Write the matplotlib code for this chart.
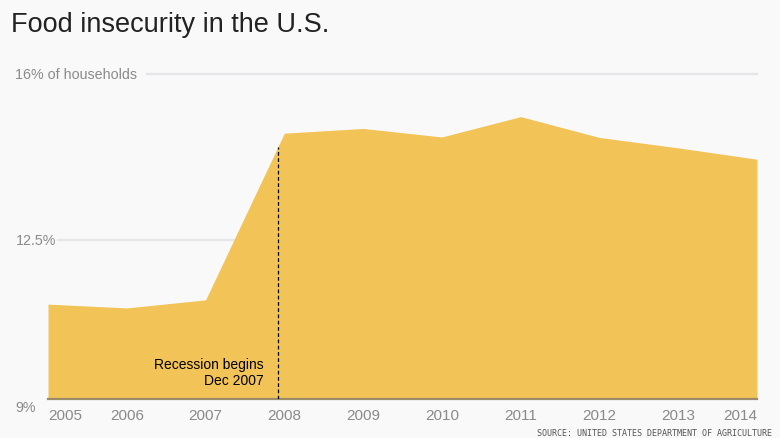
import numpy as np
import matplotlib.pyplot as plt

# food insecurity, % of households
years = [2005, 2006, 2007, 2008, 2009, 2010, 2011, 2012, 2013, 2014]
pct = [11.14, 11.06, 11.23, 14.75, 14.85, 14.67, 15.10, 14.66, 14.44, 14.20]
ytick_vals = [9, 12.5, 16]
ytick_text = ["9%", "12.5%", "16% of households"]
recession = 2007 + 11 / 12.0
ybase = 9.13  # area bottom sits a bit above the 9% mark

plt.rcParams['font.family'] = ['Liberation Sans', 'DejaVu Sans']

bg = "#f9f9f9"
fig = plt.figure(figsize=(7.8, 4.39), dpi=100, facecolor=bg)
ax = fig.add_axes([48 / 780, 38.7 / 439, 709 / 780, 325.3 / 439])
ax.set_facecolor(bg)

# gridlines
ax.axhline(16, xmin=0.14, xmax=1, color="#e6e6ea", lw=1.6, zorder=0,
           clip_on=False)
ax.axhline(12.5, xmin=0.014, xmax=1, color="#e6e6ea", lw=1.6, zorder=0)

ax.fill_between(years, ybase, pct, color="#f2c357", lw=0, zorder=1)
ax.axhline(ybase, color="#9c8b68", lw=1.6, zorder=2, clip_on=False)

# recession marker
top = np.interp(recession, years, pct)
ax.plot([recession, recession], [ybase, top], color="black", lw=0.9,
        linestyle=(0, (3, 2)), zorder=3)
ax.text(recession - 0.18, 9.39, "Recession begins\nDec 2007", ha="right",
        va="bottom", fontsize=10, color="black", linespacing=1.2, zorder=4)

ax.set_xlim(years[0], years[-1])
ax.set_ylim(ybase, 16)
ax.set_xticks([])
ax.set_yticks([])
for s in ax.spines.values():
    s.set_visible(False)

# year labels (ends pulled inward)
for y in years:
    ha = "center"
    if y == years[0]:
        ha = "left"
    elif y == years[-1]:
        ha = "right"
    fig.text(ax.transData.transform((y, 0))[0] / fig.dpi / 7.8,
             1 - 416 / 439, str(y), ha=ha, va="center", fontsize=11,
             color="#8a8a8a")

# y labels
fig.text(15 / 780, 1 - 75 / 439, ytick_text[2], ha="left", va="center",
         fontsize=10.3, color="#8a8a8a")
fig.text(56 / 780, 1 - 240.7 / 439, ytick_text[1], ha="right", va="center",
         fontsize=10.3, color="#8a8a8a")
fig.text(15 / 780, 1 - 408 / 439, ytick_text[0], ha="left", va="center",
         fontsize=10.3, color="#8a8a8a")

fig.text(11 / 780, 1 - 25 / 439, "Food insecurity in the U.S.", ha="left",
         va="center", fontsize=19.5, color="#222222")
fig.text(772 / 780, 1 - 434 / 439, "SOURCE: UNITED STATES DEPARTMENT OF AGRICULTURE",
         ha="right", va="center", fontsize=6, color="#555555",
         family="DejaVu Sans Mono")

fig.savefig("out.png", dpi=100, facecolor=bg)
